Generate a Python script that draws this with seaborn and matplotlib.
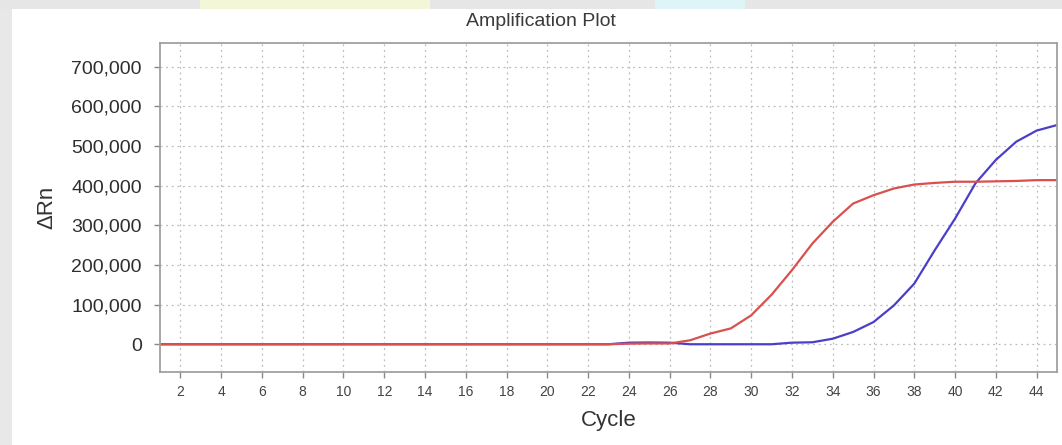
import numpy as np
import pandas as pd
import matplotlib
matplotlib.use("Agg")
import matplotlib.pyplot as plt
from matplotlib.patches import Rectangle
from matplotlib.ticker import FuncFormatter
import seaborn as sns

cycles = list(range(1, 46))
red_values = [0] * 22 + [0, 1500, 2000, 2000, 10000, 27000, 40000, 73000, 125000,
                         187000, 254000, 309000, 355000, 376000, 393000, 403000,
                         407000, 410000, 410000, 411000, 412000, 414000, 414000]
blue_values = [0] * 22 + [0, 4000, 4500, 4000, 0, 0, 0, 0, 0,
                          4000, 5000, 14000, 31000, 56000, 98000, 153000,
                          237000, 317000, 406000, 465000, 511000, 539000, 553000]
series_names = ["Sample B", "Sample A"]
x_ticks = list(range(2, 46, 2))
y_ticks = [0, 100000, 200000, 300000, 400000, 500000, 600000, 700000]

# blue first so the red curve is drawn on top (as in the reference)
df = pd.DataFrame({
    "Cycle": cycles * 2,
    "dRn": blue_values + red_values,
    "Sample": [series_names[0]] * len(cycles) + [series_names[1]] * len(cycles),
})

sns.set_theme(style="white")
plt.rcParams["font.family"] = ["Liberation Sans", "DejaVu Sans"]

fig = plt.figure(figsize=(10.62, 4.45), dpi=100, facecolor="white")
# frame / shadow effect
fig.patches.append(Rectangle((0, 0), 12 / 1062, 1, transform=fig.transFigure,
                             facecolor="#e8e8e8", edgecolor="none", zorder=0))
fig.patches.append(Rectangle((0, 1 - 9 / 445), 1, 9 / 445, transform=fig.transFigure,
                             facecolor="#e6e6e6", edgecolor="none", zorder=0))
fig.patches.append(Rectangle((200 / 1062, 1 - 9 / 445), 230 / 1062, 9 / 445,
                             transform=fig.transFigure,
                             facecolor="#f4f6d8", edgecolor="none", zorder=0))
fig.patches.append(Rectangle((655 / 1062, 1 - 9 / 445), 90 / 1062, 9 / 445,
                             transform=fig.transFigure,
                             facecolor="#dff4f6", edgecolor="none", zorder=0))

ax = fig.add_axes([160 / 1062, 1 - 372 / 445, (1057 - 160) / 1062, (372 - 43) / 445])

sns.lineplot(data=df, x="Cycle", y="dRn", hue="Sample",
             palette=["#4a3fc8", "#d9504f"], linewidth=1.6, legend=False, ax=ax)

ax.set_xlim(1, 45)
ax.set_ylim(-70000, 760000)
ax.set_xticks(x_ticks)
ax.set_yticks(y_ticks)
ax.yaxis.set_major_formatter(FuncFormatter(lambda v, p: f"{int(v):,}"))
ax.grid(True, color="#bdbdbd", linestyle=(0, (1.5, 3)), linewidth=0.9)
ax.set_axisbelow(True)
for s in ax.spines.values():
    s.set_color("#a0a0a0")
    s.set_linewidth(1.3)

ax.tick_params(axis="both", which="major", direction="out", length=4, width=1,
               color="#888888", bottom=True, left=True)
ax.tick_params(axis="y", labelsize=14, pad=9, labelcolor="#2e2e2e")
ax.tick_params(axis="x", labelsize=10, pad=5, labelcolor="#444444")

ax.set_xlabel("Cycle", fontsize=16, color="#333333", labelpad=8)
ax.set_ylabel("ΔRn", fontsize=16, color="#333333", labelpad=10)

fig.text(541 / 1062, 1 - 22 / 445, "Amplification Plot", ha="center", va="center",
         fontsize=14, color="#3a3a3a")

fig.savefig("out.png", dpi=100, facecolor=fig.get_facecolor())
